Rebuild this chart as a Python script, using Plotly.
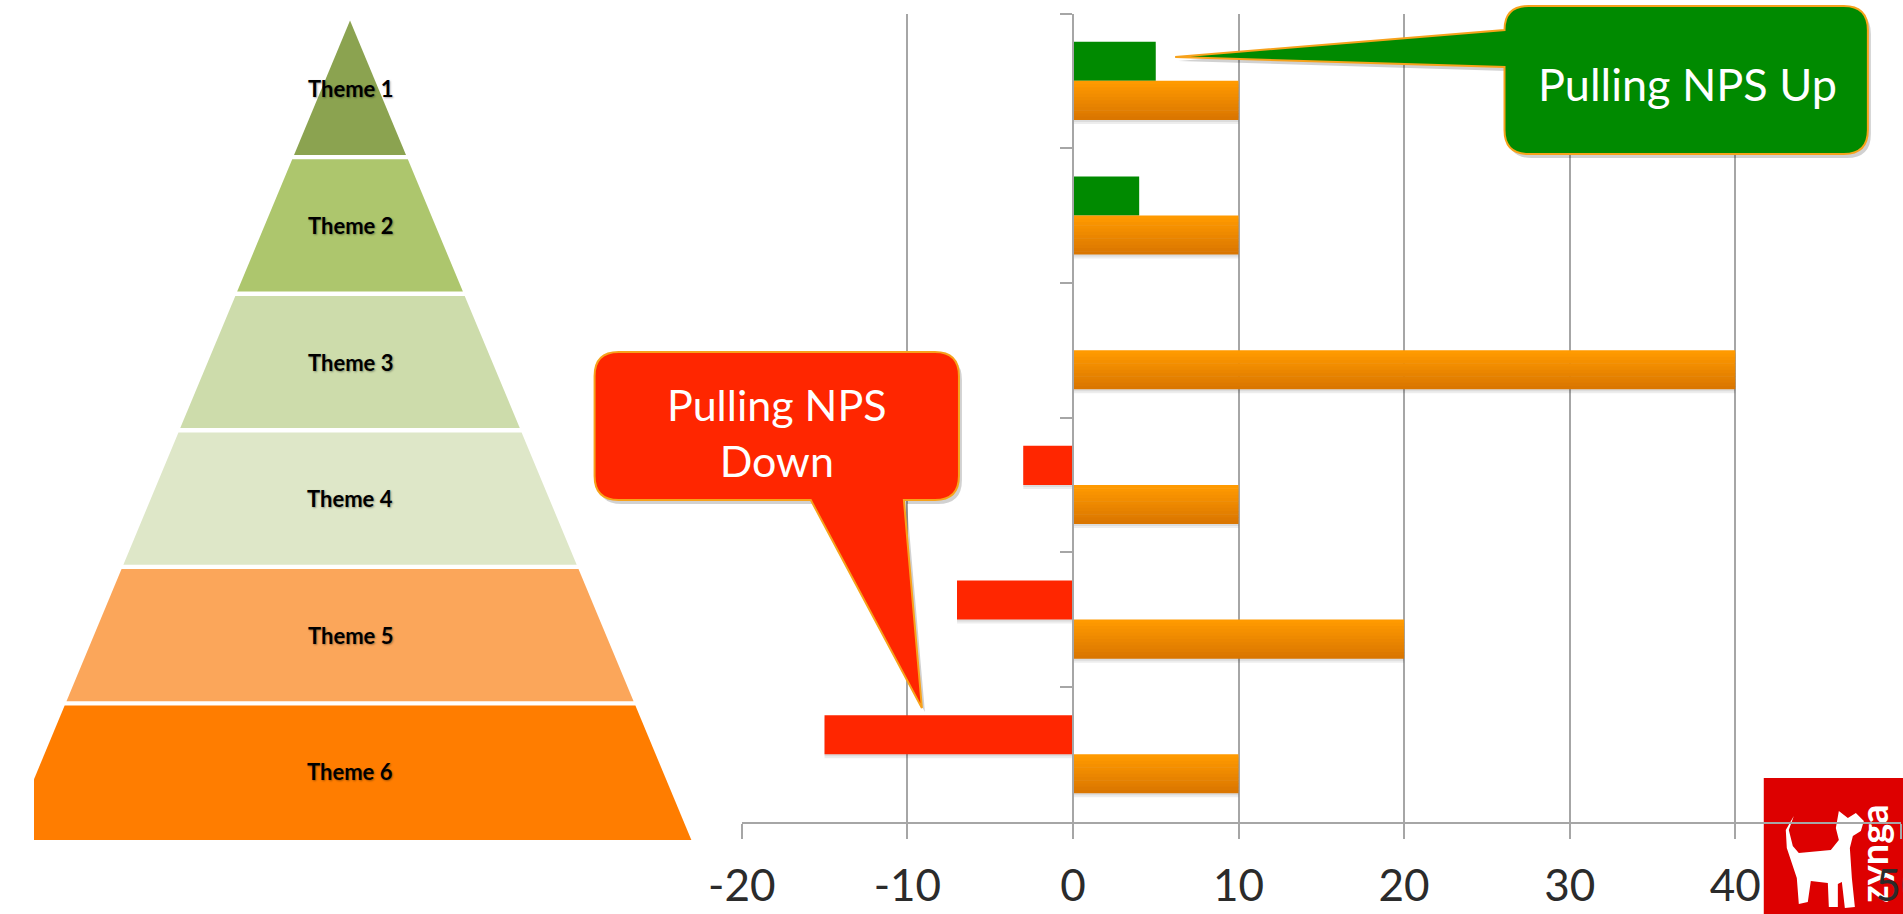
import plotly.graph_objects as go

# ---------------- data ----------------
themes = ["Theme 1", "Theme 2", "Theme 3", "Theme 4", "Theme 5", "Theme 6"]
theme_values = [10, 10, 40, 10, 20, 10]          # orange bars
nps_pull = [5, 4, None, -3, -7, -15]             # green (up) / red (down) bars
x_ticks = [-20, -10, 0, 10, 20, 30, 40, 50]
x_tick_labels = ["-20", "-10", "0", "10", "20", "30", "40", "50"]
pyramid_colors = ["#8BA350", "#ADC66D", "#CDDCAB", "#DEE7C8", "#FBA65A", "#FF7D00"]
callout_up_text = "Pulling NPS Up"
callout_down_text = "Pulling NPS<br>Down"

FW, H = 1935, 914
GREEN = "#008A00"
RED = "#FF2600"
ORANGE_TOP = (255, 154, 0)
ORANGE_BOTTOM = (218, 118, 0)
GRID = "#A6A6A6"
FONT = "Lato"

# horizontal placement helper (target picture pixel -> figure pixel)
AX, BX = 0.968, 35.0

def CX(x):
    return (x - BX) / AX

def P(x, y):
    return (CX(x) / FW, 1 - y / H)

def make_path(cmds):
    out = []
    for c, pts in cmds:
        s = c
        for (x, y) in pts:
            px, py = P(x, y)
            s += f" {px:.6f},{py:.6f}"
        out.append(s)
    return " ".join(out)

fig = go.Figure()

# ---------------- pyramid (left) ----------------
n = len(themes)
g = 0.016
for k in range(n):
    level = n - 1 - k          # Theme 1 on top
    h0 = level + (g if level > 0 else 0)
    h1 = level + 1 - g if level < n - 1 else n
    w0 = 1 - h0 / n
    w1 = 1 - h1 / n
    fig.add_trace(go.Scatter(
        x=[-w0, w0, w1, -w1, -w0], y=[h0, h0, h1, h1, h0],
        fill="toself", fillcolor=pyramid_colors[k], mode="lines",
        line=dict(width=0, color=pyramid_colors[k]),
        xaxis="x2", yaxis="y2", hoverinfo="skip", showlegend=False))
    fig.add_annotation(x=0, y=level + 0.5, xref="x2", yref="y2", text=f"<b>{themes[k]}</b>",
                       xanchor="center", yanchor="middle",
                       showarrow=False, font=dict(family=FONT, size=22, color="#000000",
                                                   shadow="1px 1px 2px rgba(0,0,0,0.35)"))

# ---------------- bars (right) ----------------
bar_w = (1 - 0.42) / 2          # each bar's thickness in category units
sh = 0.03                       # shadow drop
nps_colors = [GREEN if (v is not None and v > 0) else RED for v in nps_pull]

# soft drop shadows
for d, a in [(sh, 0.07), (sh * 0.5, 0.07)]:
    fig.add_trace(go.Bar(y=themes, x=nps_pull, orientation="h", offset=-bar_w + d, width=bar_w,
                         marker=dict(color=f"rgba(0,0,0,{a})", line=dict(width=0)),
                         showlegend=False, hoverinfo="skip"))
    fig.add_trace(go.Bar(y=themes, x=theme_values, orientation="h", offset=d, width=bar_w,
                         marker=dict(color=f"rgba(0,0,0,{a})", line=dict(width=0)),
                         showlegend=False, hoverinfo="skip"))

fig.add_trace(go.Bar(y=themes, x=nps_pull, orientation="h", offset=-bar_w, width=bar_w,
                     marker=dict(color=nps_colors, line=dict(width=0)),
                     showlegend=False, hoverinfo="x+y"))

# orange bars with a vertical gradient (light top -> darker bottom)
n_slices = 12
for i in range(n_slices):
    t = i / (n_slices - 1)
    col = tuple(round(ORANGE_TOP[j] + (ORANGE_BOTTOM[j] - ORANGE_TOP[j]) * t) for j in range(3))
    fig.add_trace(go.Bar(y=themes, x=theme_values, orientation="h",
                         offset=i * bar_w / n_slices, width=bar_w / n_slices + (0.004 if i < n_slices - 1 else 0),
                         marker=dict(color=f"rgb{col}", line=dict(width=0)),
                         showlegend=False, hoverinfo="x+y" if i == 0 else "skip"))

x_dom = [CX(742) / FW, min(CX(1900) / FW, 1.0)]
y_dom = [1 - 821.6 / H, 1 - 13.5 / H]
x_rng = [x_ticks[0], x_ticks[-1]]
zero_pos = x_dom[0] + (0 - x_rng[0]) / (x_rng[1] - x_rng[0]) * (x_dom[1] - x_dom[0])

pyr_c, pyr_hw, pyr_right = CX(350.7), 341.0 / AX, 740.0

fig.update_layout(
    width=FW, height=H, autosize=False,
    margin=dict(l=0, r=0, t=0, b=0, pad=0),
    paper_bgcolor="white", plot_bgcolor="rgba(0,0,0,0)",
    barmode="overlay",
    showlegend=False,
    xaxis=dict(domain=x_dom, range=x_rng, tickvals=x_ticks, ticktext=x_tick_labels,
               showgrid=True, gridcolor=GRID, gridwidth=2,
               zeroline=False, showline=True, linecolor=GRID, linewidth=2, ticks="outside", ticklen=15,
               tickwidth=2, tickcolor=GRID, anchor="y", ticklabelstandoff=10, ticklabeloverflow="allow",
               tickfont=dict(family=FONT, size=44, color="#2B2B2B")),
    yaxis=dict(domain=y_dom, type="category", autorange="reversed", showticklabels=False,
               tickson="boundaries", ticks="outside", ticklen=12, tickwidth=2, tickcolor=GRID,
               showline=True, linecolor=GRID, linewidth=2, showgrid=False, zeroline=False,
               anchor="free", position=zero_pos),
    xaxis2=dict(domain=[0, pyr_right / FW], range=[(0 - pyr_c) / pyr_hw, (pyr_right - pyr_c) / pyr_hw],
                visible=False, anchor="y2", fixedrange=True),
    yaxis2=dict(domain=[0, 1], range=[-0.5418, 6.1507], visible=False, anchor="x2", fixedrange=True),
)

shapes = []

# ---------------- zynga logo (beneath chart) ----------------
shapes.append(dict(type="rect", xref="paper", yref="paper", x0=CX(1763) / FW, x1=min(CX(1903) / FW, 1.0),
                   y0=0, y1=1 - 778 / H, fillcolor="#DD0000", line=dict(width=0), layer="below"))
dog = [(1793, 816), (1788, 830), (1792, 846), (1798, 853), (1830, 850), (1838, 840), (1835, 828),
       (1838, 811), (1847, 818), (1855, 813), (1863, 821), (1860, 831), (1852, 836), (1849, 848),
       (1851, 878), (1854, 907), (1844, 908), (1841, 882), (1837, 884), (1837, 907), (1828, 907),
       (1827, 883), (1810, 881), (1807, 902), (1798, 904), (1796, 878), (1791, 863), (1786, 848),
       (1785, 830)]
shapes.append(dict(type="path", xref="paper", yref="paper", layer="below",
                   path=make_path([("M", [dog[0]])] + [("L", [p]) for p in dog[1:]] + [("Z", [])]),
                   fillcolor="white", line=dict(width=0)))
shapes.append(dict(type="rect", xref="paper", yref="paper", x0=CX(1852) / FW, x1=CX(1892) / FW, y0=1 - 912 / H,
                   y1=1 - 795 / H, fillcolor="rgba(0,0,0,0)", line=dict(width=0), layer="below",
                   label=dict(text="zynga", textangle=-90, textposition="middle center",
                              font=dict(family=FONT, size=38, color="white", weight="bold"))))

# ---------------- callouts ----------------
def callout_up(dx=0, dy=0):
    x1, x2, y1, y2, r = 1504 + dx, 1867 + dx, 6 + dy, 154 + dy, 24
    return make_path([
        ("M", [(x1 + r, y1)]), ("L", [(x2 - r, y1)]), ("Q", [(x2, y1), (x2, y1 + r)]),
        ("L", [(x2, y2 - r)]), ("Q", [(x2, y2), (x2 - r, y2)]), ("L", [(x1 + r, y2)]),
        ("Q", [(x1, y2), (x1, y2 - r)]), ("L", [(x1, 67 + dy)]), ("L", [(1175 + dx, 57 + dy)]),
        ("L", [(x1, 30 + dy)]), ("Q", [(x1, y1), (x1 + r, y1)]), ("Z", [])])

def callout_down(dx=0, dy=0):
    x1, x2, y1, y2, r = 595 + dx, 959 + dx, 352 + dy, 500 + dy, 24
    return make_path([
        ("M", [(x1 + r, y1)]), ("L", [(x2 - r, y1)]), ("Q", [(x2, y1), (x2, y1 + r)]),
        ("L", [(x2, y2 - r)]), ("Q", [(x2, y2), (x2 - r, y2)]), ("L", [(904 + dx, y2)]),
        ("L", [(922 + dx, 708 + dy)]), ("L", [(811 + dx, y2)]), ("L", [(x1 + r, y2)]),
        ("Q", [(x1, y2), (x1, y2 - r)]), ("L", [(x1, y1 + r)]), ("Q", [(x1, y1), (x1 + r, y1)]),
        ("Z", [])])

for fn, col in [(callout_up, GREEN), (callout_down, RED)]:
    shapes.append(dict(type="path", xref="paper", yref="paper", layer="above", path=fn(3, 4),
                       fillcolor="rgba(0,0,0,0.18)", line=dict(width=0)))
    shapes.append(dict(type="path", xref="paper", yref="paper", layer="above", path=fn(),
                       fillcolor=col, line=dict(color="#F7A21B", width=2)))

fig.update_layout(shapes=shapes)

fig.add_annotation(x=CX(1687) / FW, y=1 - 84 / H, xref="paper", yref="paper", text=callout_up_text,
                   xanchor="center", yanchor="middle",
                   showarrow=False, font=dict(family=FONT, size=45, color="white"))
fig.add_annotation(x=CX(777) / FW, y=1 - 432 / H, xref="paper", yref="paper", text=callout_down_text,
                   xanchor="center", yanchor="middle",
                   showarrow=False, font=dict(family=FONT, size=43, color="white"))

post = (
    "document.documentElement.style.margin='0';document.documentElement.style.padding='0';"
    "document.body.style.margin='0';document.body.style.padding='0';document.body.style.overflow='hidden';"
    "var d=document.getElementsByClassName('plotly-graph-div')[0];"
    "d.style.position='fixed';d.style.left='0px';d.style.top='0px';d.style.margin='0';"
)
fig.write_html("out.html", config={"displayModeBar": False}, post_script=post)
